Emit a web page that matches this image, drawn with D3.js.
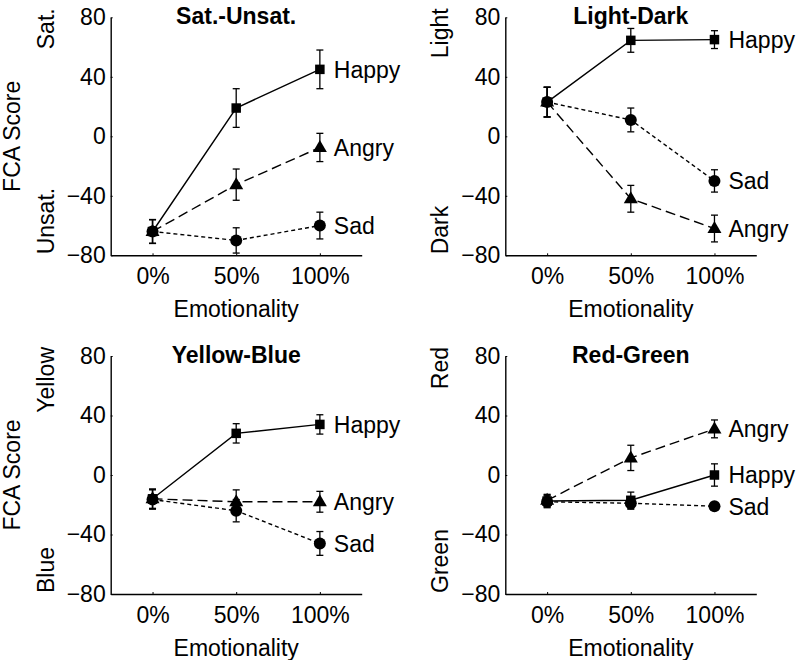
<!DOCTYPE html>
<html><head><meta charset="utf-8">
<script src="https://cdn.jsdelivr.net/npm/d3@7"></script>
<style>
body{margin:0;background:#fff}
svg{display:block}
text{font-family:"Liberation Sans",Arial,Helvetica,sans-serif;fill:#000}
</style>
</head><body>
<svg id="c" width="796" height="660"></svg>
<script>
// ---- data ----
const levels = ['0%', '50%', '100%'];
const yTicks = [-80, -40, 0, 40, 80];
const panelTitles = ['Sat.-Unsat.', 'Light-Dark', 'Yellow-Blue', 'Red-Green'];
const poleHigh = ['Sat.', 'Light', 'Yellow', 'Red'];
const poleLow = ['Unsat.', 'Dark', 'Blue', 'Green'];
const emotions = ['Happy', 'Angry', 'Sad'];
// per panel: [Sat.-Unsat., Light-Dark, Yellow-Blue, Red-Green]
const happyMean = [[-64, 19, 45], [23, 64.5, 65], [-16, 28, 34], [-17.5, -17, 0]];
const happyErr  = [[8, 13, 13], [10, 8, 6], [6.5, 6.5, 6.5], [4, 5.5, 7.5]];
const angryMean = [[-64, -32.5, -7.5], [23, -42, -62], [-16, -18, -18], [-17, 11.5, 31]];
const angryErr  = [[8, 10.5, 9.5], [10, 9, 9], [6.5, 8, 7], [4, 8.5, 6]];
const sadMean   = [[-64, -70, -60], [23, 11, -30], [-16.5, -24, -46], [-18, -19, -21]];
const sadErr    = [[8, 8.5, 9], [10, 8, 7.5], [6.5, 7.5, 8], [4, 4, 2]];

// ---- layout ----
const colX = [110.7, 505.3];
const rowY = [17.3, 356];
const W = 251, H = 238;
const FS = 23;

const svg = d3.select('#c');

const styles = {
  Happy: {dash: null, sym: 'square'},
  Angry: {dash: '10,5', sym: 'triangle'},
  Sad: {dash: '4,3', sym: 'circle'}
};

const meansBy = {Happy: happyMean, Angry: angryMean, Sad: sadMean};
const errsBy = {Happy: happyErr, Angry: angryErr, Sad: sadErr};

panelTitles.forEach((title, p) => {
  const col = p % 2, row = Math.floor(p / 2);
  const g = svg.append('g').attr('transform', `translate(${colX[col]},${rowY[row]})`);
  const x = d3.scalePoint().domain(levels).range([0, W]).padding(0.5);
  const y = d3.scaleLinear().domain([-80, 80]).range([H, 0]);

  // axes
  const ya = g.append('g').call(d3.axisLeft(y).tickValues(yTicks).tickSize(-2).tickSizeOuter(0).tickPadding(5));
  const xa = g.append('g').attr('transform', `translate(0,${H})`)
    .call(d3.axisBottom(x).tickSize(-2).tickSizeOuter(0).tickPadding(12.5));
  [ya, xa].forEach(a => {
    a.attr('font-size', FS).attr('font-family', '"Liberation Sans",Arial,Helvetica,sans-serif');
    a.select('.domain').attr('stroke', '#000').attr('stroke-width', 1.4);
    a.selectAll('.tick line').attr('stroke', '#000').attr('stroke-width', 1);
    a.selectAll('.tick text').attr('fill', '#000');
  });

  // title
  g.append('text').attr('x', W / 2).attr('y', 6.5).attr('text-anchor', 'middle')
    .attr('font-size', FS).attr('font-weight', 'bold').text(title);
  // x label
  g.append('text').attr('x', W / 2).attr('y', H + 62).attr('text-anchor', 'middle')
    .attr('font-size', FS).text('Emotionality');
  // pole labels
  g.append('text').attr('transform', `translate(-57,-9) rotate(-90)`).attr('text-anchor', 'end')
    .attr('font-size', FS).text(poleHigh[p]);
  g.append('text').attr('transform', `translate(-57,${H - 1}) rotate(-90)`).attr('text-anchor', 'start')
    .attr('font-size', FS).text(poleLow[p]);
  if (col === 0) {
    g.append('text').attr('transform', `translate(-90.7,${H / 2}) rotate(-90)`).attr('text-anchor', 'middle')
      .attr('font-size', FS).text('FCA Score');
  }

  const line = d3.line().x((d, j) => x(levels[j])).y(d => y(d));

  // lines
  emotions.forEach(em => {
    g.append('path').datum(meansBy[em][p]).attr('d', line)
      .attr('fill', 'none').attr('stroke', '#000').attr('stroke-width', 1.4)
      .attr('stroke-dasharray', styles[em].dash);
  });
  // error bars
  emotions.forEach(em => {
    const m = meansBy[em][p], e = errsBy[em][p];
    const eg = g.append('g').attr('stroke', '#000').attr('stroke-width', 1.3);
    m.forEach((v, j) => {
      const cx = x(levels[j]);
      eg.append('line').attr('x1', cx).attr('x2', cx).attr('y1', y(v - e[j])).attr('y2', y(v + e[j]));
      eg.append('line').attr('x1', cx - 3.5).attr('x2', cx + 3.5).attr('y1', y(v - e[j])).attr('y2', y(v - e[j]));
      eg.append('line').attr('x1', cx - 3.5).attr('x2', cx + 3.5).attr('y1', y(v + e[j])).attr('y2', y(v + e[j]));
    });
  });
  // markers
  emotions.forEach(em => {
    const m = meansBy[em][p];
    m.forEach((v, j) => {
      const cx = x(levels[j]), cy = y(v);
      const s = styles[em].sym;
      if (s === 'square') {
        g.append('rect').attr('x', cx - 4.75).attr('y', cy - 4.75).attr('width', 9.5).attr('height', 9.5).attr('fill', '#000');
      } else if (s === 'circle') {
        g.append('circle').attr('cx', cx).attr('cy', cy).attr('r', 6).attr('fill', '#000');
      } else {
        g.append('path').attr('d', `M${cx},${cy - 7.5}L${cx + 7},${cy + 4.5}L${cx - 7},${cy + 4.5}Z`).attr('fill', '#000');
      }
    });
    // series label
    g.append('text').attr('x', x(levels[2]) + 14).attr('y', y(m[2])).attr('dy', '0.36em')
      .attr('font-size', FS).text(em);
  });
});
</script>
</body></html>
